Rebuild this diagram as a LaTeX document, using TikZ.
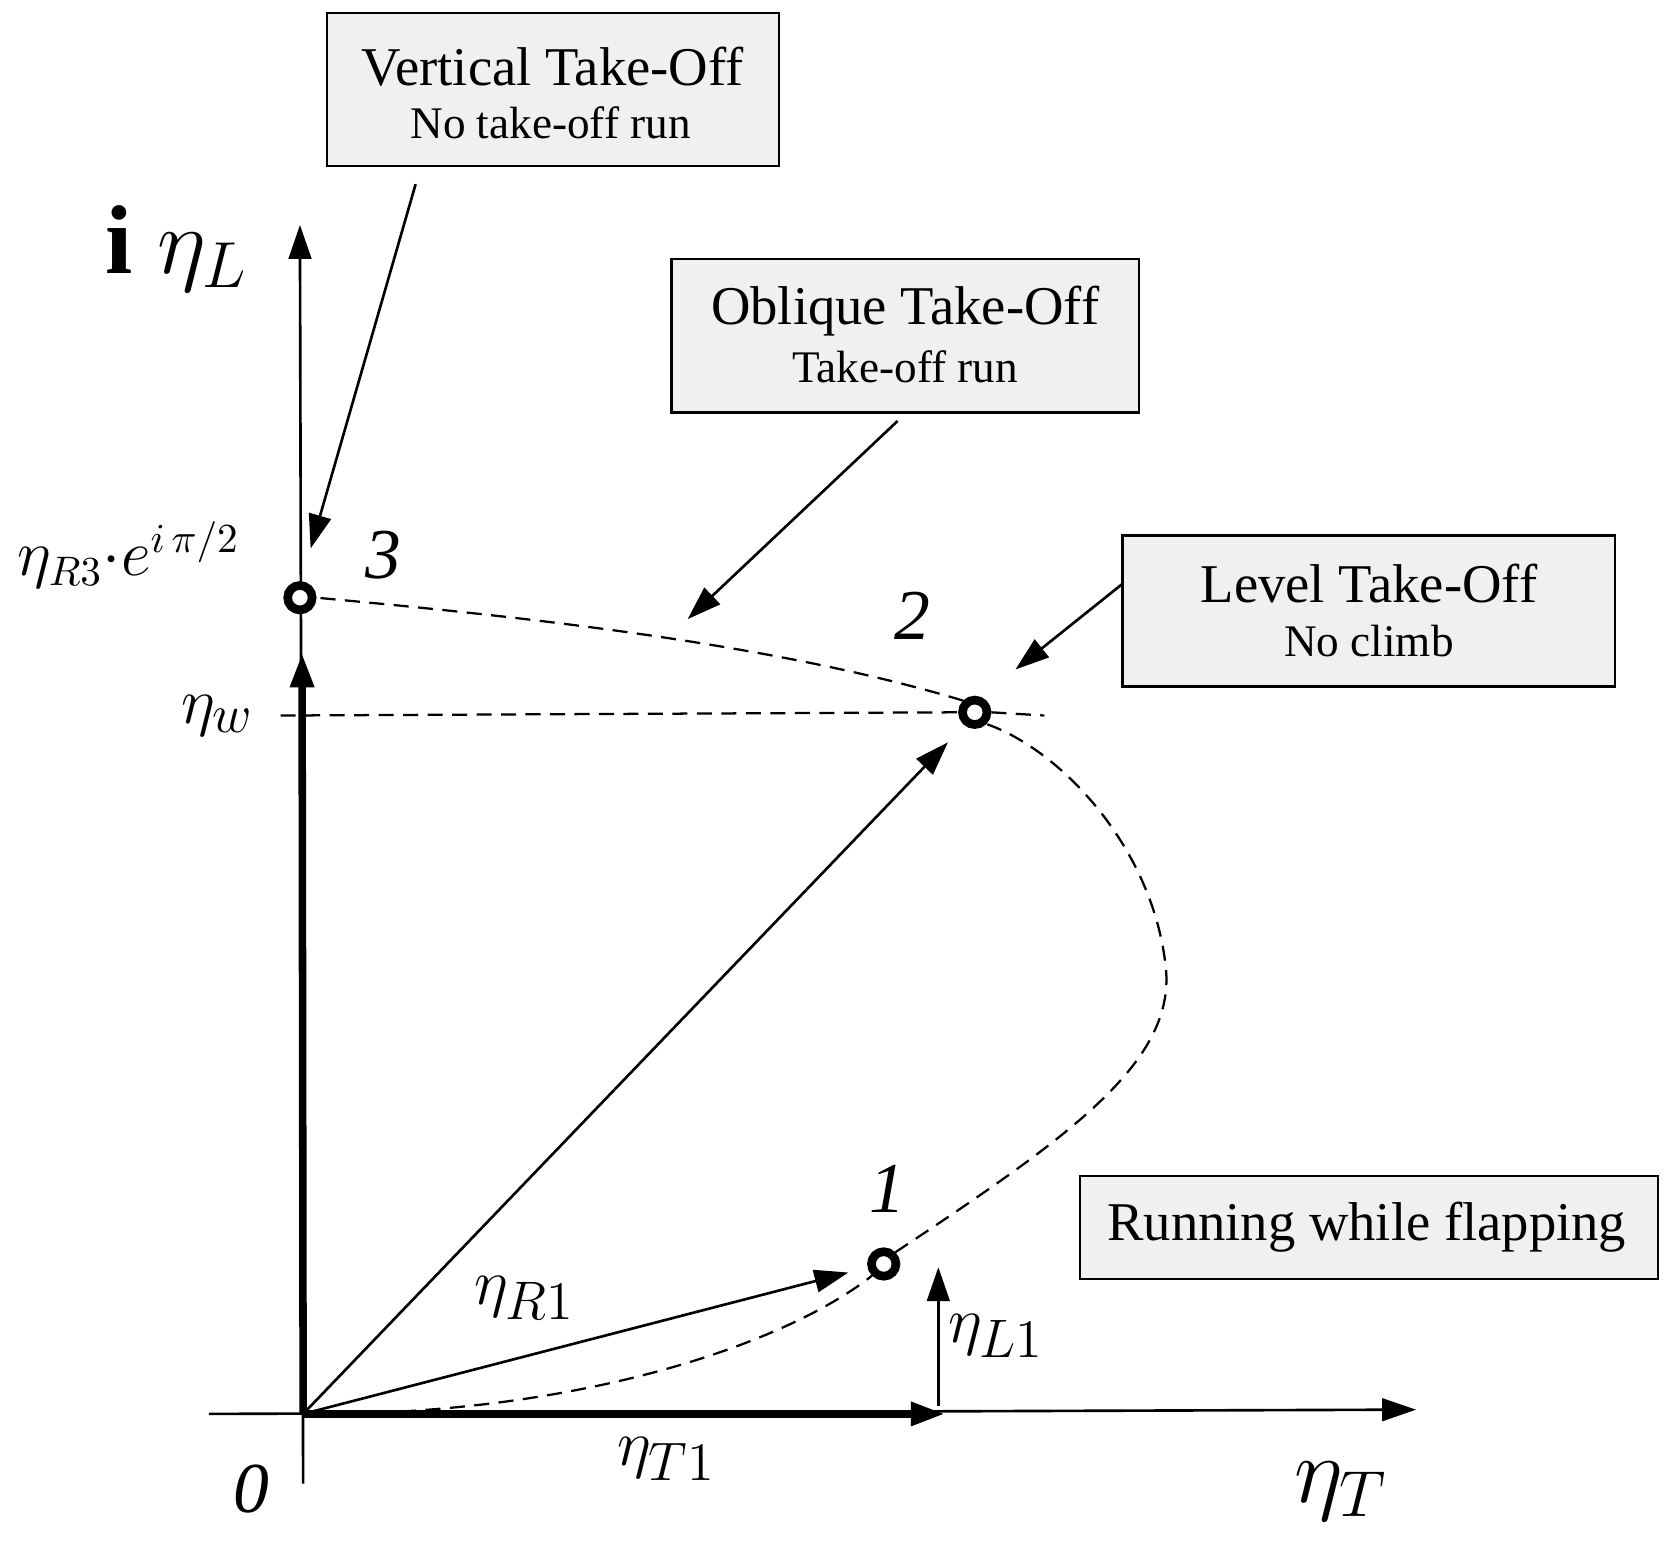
\documentclass[tikz,border=0pt]{standalone}
\usepackage{fontspec}
\setmainfont{Liberation Serif}
\usetikzlibrary{arrows.meta}
\begin{document}
\begin{tikzpicture}[x=0.01cm,y=-0.01cm,
  box/.style={draw,fill=gray!12,line width=0.6pt},
  ttl/.style={font=\fontsize{14.5}{18}\selectfont},
  sub/.style={font=\fontsize{12}{15}\selectfont},
  lab/.style={font=\fontsize{19}{22}\selectfont},
  arr/.style={-{Triangle[length=9pt,width=6pt]},line width=0.7pt},
  dsh/.style={dash pattern=on 4pt off 2.5pt,line width=0.6pt},
  pt/.style={circle,draw,line width=2.3pt,minimum size=6.5pt,inner sep=0pt,fill=white}]
\useasboundingbox (0,0) rectangle (1560,1440);
% boxes
\node[box,minimum width=422*0.01cm,minimum height=143*0.01cm] (bv) at (516,83.5) {};
\node[ttl] (tv) at (516,62) {Vertical Take-Off};
\node[sub] (sv) at (514,115) {No take-off run};
\node[box,minimum width=436*0.01cm,minimum height=143*0.01cm] (bo) at (845,313.5) {};
\node[ttl] (to) at (845,290) {Oblique Take-Off};
\node[sub] (so) at (845,342) {Take-off run};
\node[box,minimum width=460*0.01cm,minimum height=141*0.01cm] (bl) at (1278,570.5) {};
\node[ttl] (tl) at (1278,545) {Level Take-Off};
\node[sub] (sl) at (1278,598) {No climb};
\node[box,minimum width=540*0.01cm,minimum height=96*0.01cm] (br) at (1278,1146) {};
\node[ttl] (tr) at (1276,1146) {Running while flapping};
% axes
\coordinate (O) at (283,1320);
\coordinate (xa) at (195,1320);
\coordinate (xb) at (1322,1316);
\coordinate (ya) at (283,1385);
\coordinate (yb) at (280,210);
\draw[arr] (xa) -- (xb);
\draw[arr] (ya) -- (yb);
% points
\node[pt] (p3) at (280,558) {};
\node[pt] (p2) at (910,665) {};
\node[pt] (p1) at (825,1180) {};
% dashed
\coordinate (w0) at (262,668);
\coordinate (w1) at (975,668);
\draw[dsh] (w0) -- (p2.west) (p2.east) -- (w1);
\draw[dsh] (O) .. controls (550,1322) and (740,1250) .. (p1.south west);
\draw[dsh] (p1.north east) .. controls (1000,1060) and (1100,990) .. (1088,900)
   .. controls (1075,790) and (990,700) .. (p2.south east);
\draw[dsh] (p2.north west) .. controls (720,600) and (480,575) .. (p3.east);
% vectors
\coordinate (t1) at (882,1320);
\coordinate (l0) at (876,1313);
\coordinate (l1) at (876,1183);
\coordinate (r1) at (792,1188);
\coordinate (r2) at (885,693);
\coordinate (w3) at (282,610);
\draw[arr,line width=2pt] (O) -- (w3);
\draw[arr,line width=2pt] (O) -- (t1);
\draw[arr] (l0) -- (l1);
\draw[arr] (O) -- (r1);
\draw[arr] (O) -- (r2);
% callouts
\coordinate (c1) at (388,172);
\coordinate (c1e) at (290,512);
\coordinate (c2) at (838,393);
\coordinate (c2e) at (642,578);
\coordinate (c3) at (1048,545);
\coordinate (c3e) at (948,625);
\draw[arr] (c1) -- (c1e);
\draw[arr] (c2) -- (c2e);
\draw[arr] (c3) -- (c3e);
% labels
\node[font=\fontsize{26}{30}\selectfont] (iL) at (165,232) {\textbf{i} $\eta_L$};
\node[font=\fontsize{16}{20}\selectfont] (R3) at (120,518) {$\eta_{R3}{\cdot}e^{i\,\pi/2}$};
\node[lab] (ew) at (203,668) {$\eta_w$};
\node[lab] (n3) at (358,518) {\textit{3}};
\node[lab] (n2) at (852,575) {\textit{2}};
\node[lab] (n1) at (828,1110) {\textit{1}};
\node[lab] (eR1) at (490,1212) {$\eta_{R1}$};
\node[lab] (eL1) at (930,1247) {$\eta_{L1}$};
\node[lab] (eT1) at (622,1362) {$\eta_{T1}$};
\node[lab] (z) at (235,1390) {\textit{0}};
\node[font=\fontsize{24}{28}\selectfont] (eT) at (1252,1392) {$\eta_T$};
\end{tikzpicture}
\end{document}
